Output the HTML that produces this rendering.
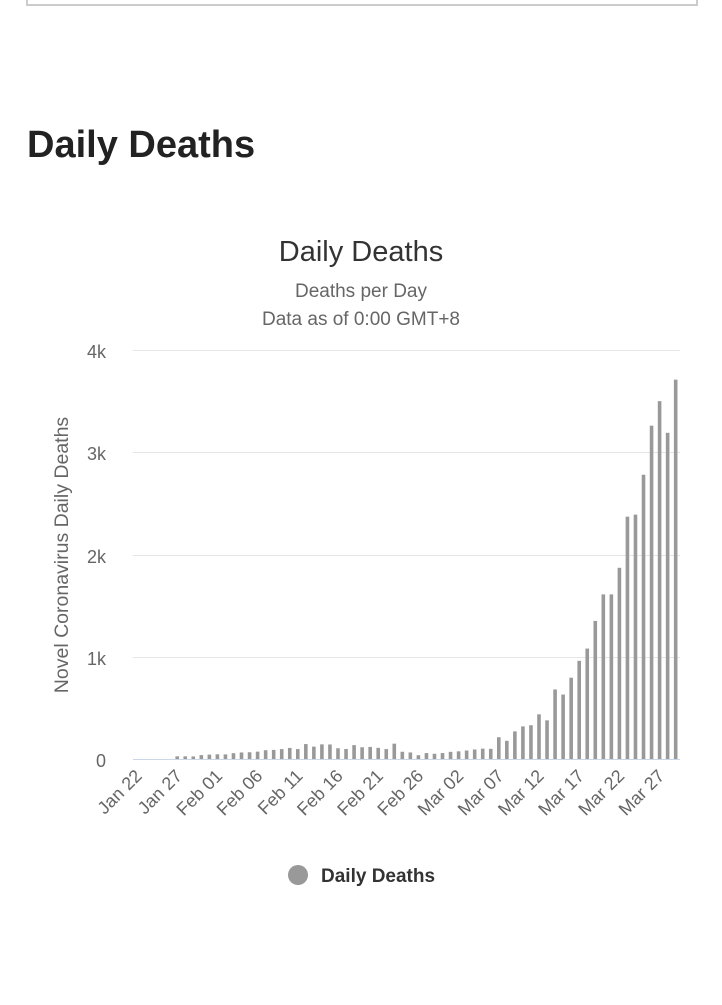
<!DOCTYPE html>
<html><head><meta charset="utf-8"><style>
body{margin:0;background:#fff;width:722px;height:1000px;overflow:hidden;font-family:"Liberation Sans",sans-serif}
</style></head><body>
<svg width="722" height="1000" xmlns="http://www.w3.org/2000/svg" font-family="Liberation Sans, sans-serif">
<rect x="27" y="-5" width="670" height="10" fill="none" stroke="#ccc" stroke-width="2"/>
<text x="27" y="157" font-size="38" font-weight="bold" fill="#222">Daily Deaths</text>
<text x="361" y="261" font-size="29" fill="#333" text-anchor="middle">Daily Deaths</text>
<text x="361" y="297" font-size="19" fill="#666" text-anchor="middle">Deaths per Day</text>
<text x="361" y="325" font-size="19" fill="#666" text-anchor="middle">Data as of 0:00 GMT+8</text>
<g stroke="#e6e6e6" stroke-width="1">
<line x1="133" x2="680" y1="350.5" y2="350.5"/><line x1="133" x2="680" y1="452.5" y2="452.5"/>
<line x1="133" x2="680" y1="555.5" y2="555.5"/><line x1="133" x2="680" y1="657.5" y2="657.5"/>
</g>
<line x1="133" x2="680" y1="759.5" y2="759.5" stroke="#ccd6eb" stroke-width="1"/>
<g font-size="18" fill="#666" text-anchor="end">
<text x="106" y="358">4k</text><text x="106" y="460">3k</text><text x="106" y="563">2k</text><text x="106" y="665">1k</text><text x="106" y="767">0</text>
</g>
<text transform="translate(68,555) rotate(-90)" font-size="19.5" fill="#666" text-anchor="middle">Novel Coronavirus Daily Deaths</text>
<g id="bars" fill="#999"></g>
<g id="labels" font-size="18" fill="#666" text-anchor="end"></g>
<circle cx="298" cy="875" r="10" fill="#999"/>
<text x="321" y="882" font-size="19" font-weight="bold" fill="#333">Daily Deaths</text>
</svg>
<script>
var v=[0,0,0,0,0,26,26,25,38,43,46,45,57,64,66,72,86,89,97,108,97,146,121,143,142,105,98,136,115,118,109,97,150,71,64,37,58,51,58,70,75,83,93,101,99,213,178,270,319,330,437,378,680,630,795,960,1080,1350,1610,1610,1870,2370,2390,2780,3260,3500,3190,3710];
var ns="http://www.w3.org/2000/svg",g=document.getElementById("bars"),lg=document.getElementById("labels");
var lab=["Jan 22","Jan 27","Feb 01","Feb 06","Feb 11","Feb 16","Feb 21","Feb 26","Mar 02","Mar 07","Mar 12","Mar 17","Mar 22","Mar 27"];
for(var i=0;i<v.length;i++){var x=137+i*8.04,h=v[i]*0.10225;if(h<=0)continue;if(h<2)h=2;
var r=document.createElementNS(ns,"rect");r.setAttribute("x",x-1.8);r.setAttribute("width",3.6);r.setAttribute("y",759-h);r.setAttribute("height",h);g.appendChild(r);}
for(var j=0;j<lab.length;j++){var x=137+j*5*8.04+6,t=document.createElementNS(ns,"text");t.setAttribute("transform","translate("+x+",777) rotate(-45)");t.textContent=lab[j];lg.appendChild(t);}
</script>
</body></html>
